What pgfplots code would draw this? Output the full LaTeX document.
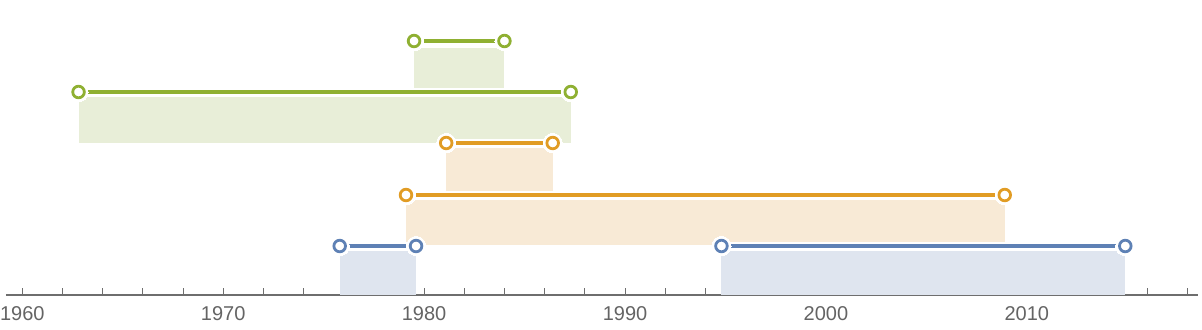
\documentclass[border=0pt]{standalone}
\usepackage{pgfplots}
\pgfplotsset{compat=1.18}
\usepackage{fontspec}
\setmainfont{Liberation Sans}
\definecolor{cb}{RGB}{94,129,181}
\definecolor{co}{RGB}{225,156,36}
\definecolor{cg}{RGB}{143,176,50}
\definecolor{fb}{RGB}{223,229,239}
\definecolor{fo}{RGB}{248,234,214}
\definecolor{fg}{RGB}{232,238,216}
\definecolor{axgray}{RGB}{110,110,110}
\definecolor{txtgray}{RGB}{100,100,100}
\begin{document}
\begin{tikzpicture}
\begin{axis}[
  at={(0,0)}, anchor=south west,
  scale only axis, width=596pt, height=147.5pt,
  xmin=1959.19, xmax=2018.52, ymin=0, ymax=295,
  axis x line*=bottom, axis y line=none,
  x axis line style={axgray, line width=0.55pt},
  xtick={1960,1970,...,2010},
  minor xtick={1962,1964,...,2018},
  xticklabels={1960,1970,1980,1990,2000,2010},
  tick align=inside,
  major tick length=3.4pt, minor tick length=3.4pt,
  every tick/.style={axgray, line width=0.5pt},
  xticklabel style={font=\fontsize{10}{12}\selectfont, text=txtgray, yshift=-2.4pt},
  clip=false,
]
% boxes
\addplot[fill=fb, draw=none] coordinates {(1975.8,0) (1975.8,44) (1979.6,44) (1979.6,0)} -- cycle;
\addplot[fill=fb, draw=none] coordinates {(1994.8,0) (1994.8,44) (2014.9,44) (2014.9,0)} -- cycle;
\addplot[fill=fo, draw=none] coordinates {(1979.1,50) (1979.1,95) (2008.9,95) (2008.9,50)} -- cycle;
\addplot[fill=fo, draw=none] coordinates {(1981.1,104) (1981.1,147) (1986.4,147) (1986.4,104)} -- cycle;
\addplot[fill=fg, draw=none] coordinates {(1962.8,152) (1962.8,198) (1987.3,198) (1987.3,152)} -- cycle;
\addplot[fill=fg, draw=none] coordinates {(1979.5,207) (1979.5,247) (1984.0,247) (1984.0,207)} -- cycle;
% halos and lines
\pgfplotsset{
  halo/.style={white, line width=3.8pt, mark=*, mark size=4.8pt, mark options={fill=white, draw=white, line width=0pt}},
  seg/.style={#1, line width=1.55pt, mark=*, mark size=2.9pt, mark options={fill=white, draw=#1, line width=1.4pt}},
}
\addplot[halo] coordinates {(1975.8,49) (1979.6,49)};
\addplot[seg=cb] coordinates {(1975.8,49) (1979.6,49)};
\addplot[halo] coordinates {(1994.8,49) (2014.9,49)};
\addplot[seg=cb] coordinates {(1994.8,49) (2014.9,49)};
\addplot[halo] coordinates {(1979.1,100) (2008.9,100)};
\addplot[seg=co] coordinates {(1979.1,100) (2008.9,100)};
\addplot[halo] coordinates {(1981.1,152) (1986.4,152)};
\addplot[seg=co] coordinates {(1981.1,152) (1986.4,152)};
\addplot[halo] coordinates {(1962.8,203) (1987.3,203)};
\addplot[seg=cg] coordinates {(1962.8,203) (1987.3,203)};
\addplot[halo] coordinates {(1979.5,254) (1984.0,254)};
\addplot[seg=cg] coordinates {(1979.5,254) (1984.0,254)};
\end{axis}
\pgfresetboundingbox
\path (-3pt,-17pt) rectangle (598pt,147.5pt);
\end{tikzpicture}
\end{document}
